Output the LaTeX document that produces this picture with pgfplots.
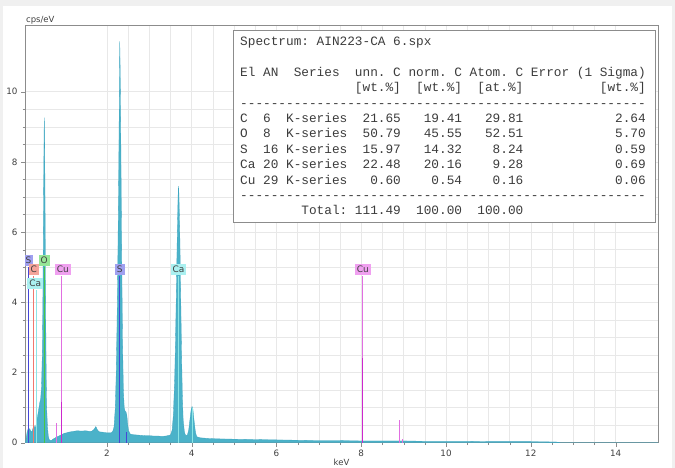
\documentclass[border=0pt]{standalone}
\usepackage{fontspec}
\setmainfont{DejaVu Sans}
\newfontfamily\monofont[Ligatures=TeXOff]{Liberation Mono}
\usepackage{pgfplots}
\pgfplotsset{compat=1.18}

\definecolor{spec}{RGB}{75,178,201}
\definecolor{specedge}{RGB}{60,165,192}
\definecolor{gridc}{RGB}{232,232,232}
\definecolor{framec}{RGB}{140,140,140}
\definecolor{txt}{RGB}{64,64,64}
\definecolor{tabtxt}{RGB}{60,60,60}
\definecolor{sline}{RGB}{70,70,215}
\definecolor{sbox}{RGB}{160,160,240}
\definecolor{cline}{RGB}{240,120,110}
\definecolor{cbox}{RGB}{245,165,155}
\definecolor{oline}{RGB}{70,200,70}
\definecolor{obox}{RGB}{150,230,150}
\definecolor{caline}{RGB}{140,230,230}
\definecolor{cabox}{RGB}{170,240,240}
\definecolor{culine}{RGB}{225,110,225}
\definecolor{cubar}{RGB}{205,40,205}
\definecolor{cubox}{RGB}{240,160,240}

\tikzset{elbl/.style={inner xsep=2bp, inner ysep=0.8bp, minimum height=11bp,
  font=\fontsize{9}{10}\selectfont, text=txt}}

\begin{document}
\begin{tikzpicture}
\useasboundingbox (0bp,0bp) rectangle (675bp,468bp);
\fill[gray!12] (0bp,0bp) rectangle (675bp,468bp);
\fill[white] (3bp,0bp) rectangle (672bp,462bp);
\begin{axis}[
  at={(25bp,25.3bp)}, anchor=south west, scale only axis,
  width=633bp, height=417.7bp,
  xmin=0.07, xmax=15, ymin=0, ymax=11.9,
  xtick={2,4,...,14}, ytick={0,2,...,10},
  minor tick num=3,
  grid=both, grid style={gridc, line width=0.5pt},
  minor grid style={gridc, line width=0.5pt},
  axis line style={framec, line width=0.8pt},
  tick style={framec}, major tick length=4bp, minor tick length=2.5bp,
  tick align=outside, xtick pos=bottom, ytick pos=left,
  tick label style={font=\fontsize{8.8}{10}\selectfont, text=txt},
  /pgf/number format/assume math mode=true,
  xlabel={keV}, ylabel={cps/eV},
  label style={font=\fontsize{8.5}{10}\selectfont, text=txt},
  ylabel style={at={(rel axis cs:0,1)}, rotate=-90, anchor=south west, inner sep=1bp},
  xlabel style={at={(rel axis cs:0.5,0)}, anchor=north, yshift=-13bp},
]
% measured spectrum
\addplot[fill=spec, draw=specedge, line width=0.3pt] coordinates {
(0.08,0) (0.1,0.15) (0.12,0.3) (0.14,0.38) (0.16,0.33) (0.18,0.4) (0.2,0.35)
(0.22,0.3) (0.24,0.33) (0.26,0.42) (0.28,0.5) (0.30,0.42) (0.32,0.45)
(0.34,0.55) (0.36,0.7) (0.38,0.85) (0.40,1.0) (0.42,1.15) (0.44,1.25)
(0.46,1.6) (0.48,2.6) (0.49,3.8) (0.50,5.4) (0.51,7.3) (0.52,8.8)
(0.525,9.26) (0.53,8.9) (0.54,7.4) (0.55,5.3) (0.56,3.4) (0.57,1.9)
(0.58,1.0) (0.60,0.45) (0.62,0.18) (0.64,0.09) (0.67,0.06) (0.70,0.07)
(0.73,0.1) (0.76,0.12) (0.80,0.15) (0.85,0.18) (0.90,0.21) (0.95,0.24)
(1.0,0.27) (1.05,0.28) (1.1,0.3) (1.15,0.31) (1.2,0.32) (1.3,0.34)
(1.4,0.33) (1.5,0.34) (1.6,0.32) (1.65,0.33) (1.70,0.38) (1.74,0.46)
(1.78,0.36) (1.82,0.31) (1.9,0.3) (2.0,0.28) (2.05,0.28) (2.1,0.28)
(2.14,0.32) (2.17,0.45) (2.2,1.0) (2.22,1.9) (2.24,3.3) (2.26,5.2)
(2.28,7.6) (2.295,9.8) (2.305,11.43) (2.315,10.6) (2.33,8.6) (2.35,5.4)
(2.37,2.9) (2.39,1.5) (2.41,1.0) (2.43,0.9) (2.45,0.88) (2.47,0.8)
(2.49,0.55) (2.51,0.35) (2.55,0.25) (2.6,0.23) (2.7,0.22) (2.8,0.21)
(2.9,0.2) (3.0,0.2) (3.1,0.19) (3.2,0.19) (3.3,0.18) (3.4,0.19) (3.5,0.22)
(3.54,0.35) (3.57,0.8) (3.6,1.8) (3.62,2.9) (3.64,4.3) (3.66,5.8)
(3.68,7.0) (3.69,7.31) (3.70,7.1) (3.72,6.0) (3.74,4.4) (3.76,2.7)
(3.78,1.4) (3.80,0.65) (3.83,0.3) (3.86,0.2) (3.9,0.22) (3.93,0.35)
(3.96,0.65) (3.99,0.95) (4.01,1.03) (4.03,0.95) (4.06,0.6) (4.09,0.3)
(4.12,0.17) (4.2,0.14) (4.4,0.12) (4.6,0.11) (5.0,0.1) (5.5,0.09)
(6.0,0.08) (6.5,0.07) (7.0,0.06) (7.5,0.06) (8.0,0.05) (8.5,0.05)
(9.0,0.05) (9.5,0.04) (10.0,0.04) (10.5,0.04) (11.0,0.03) (11.5,0.03)
(12.0,0.03) (12.6,0.02) (12.7,0) (15,0)
} \closedcycle;
% element lines
\addplot[ycomb, draw=caline, line width=1bp] coordinates {(0.341,4.35) (3.69,4.75) (4.01,1.0)};
\addplot[ycomb, draw=cline, line width=0.8bp] coordinates {(0.277,4.75)};
\addplot[ycomb, draw=sline, line width=0.9bp] coordinates {(0.149,5.0) (2.307,4.75) (2.464,0.3)};
\addplot[ycomb, draw=oline, line width=1bp] coordinates {(0.525,5.0)};
\addplot[ycomb, draw=culine, line width=0.9bp] coordinates {(0.93,4.75) (0.81,0.55) (8.04,4.75) (8.905,0.65) (8.97,0.1)};
\addplot[ycomb, draw=cubar, line width=1bp] coordinates {(0.935,1.15) (8.03,2.4)};
% element labels
\node[elbl, fill=sbox] at (axis cs:0.15,5.2) {S};
\node[elbl, fill=obox] at (axis cs:0.52,5.2) {O};
\node[elbl, fill=cbox] at (axis cs:0.277,4.94) {C};
\node[elbl, fill=cabox] at (axis cs:0.31,4.54) {Ca};
\node[elbl, fill=cubox] at (axis cs:0.96,4.94) {Cu};
\node[elbl, fill=sbox] at (axis cs:2.307,4.94) {S};
\node[elbl, fill=cabox] at (axis cs:3.69,4.94) {Ca};
\node[elbl, fill=cubox] at (axis cs:8.04,4.94) {Cu};
\end{axis}
% quantification result box
\draw[framec, fill=white, line width=0.8bp] (233bp,246bp) rectangle (655bp,438bp);
\node[anchor=north west, inner sep=0pt, align=left, text=tabtxt,
  font=\monofont\fontsize{12.8}{15.45}\selectfont] at (240bp,431.2bp) {%
Spectrum:~AIN223-CA~6.spx\\
\mbox{}\\
El~AN~~Series~~unn.~C~norm.~C~Atom.~C~Error~(1~Sigma)\\
~~~~~~~~~~~~~~~[wt.\%]~~[wt.\%]~~[at.\%]~~~~~~~~~~[wt.\%]\\
-----------------------------------------------------\\
C~~6~~K-series~~21.65~~~19.41~~~29.81~~~~~~~~~~~~2.64\\
O~~8~~K-series~~50.79~~~45.55~~~52.51~~~~~~~~~~~~5.70\\
S~~16~K-series~~15.97~~~14.32~~~~8.24~~~~~~~~~~~~0.59\\
Ca~20~K-series~~22.48~~~20.16~~~~9.28~~~~~~~~~~~~0.69\\
Cu~29~K-series~~~0.60~~~~0.54~~~~0.16~~~~~~~~~~~~0.06\\
-----------------------------------------------------\\
~~~~~~~~Total:~111.49~~100.00~~100.00};
\end{tikzpicture}
\end{document}
